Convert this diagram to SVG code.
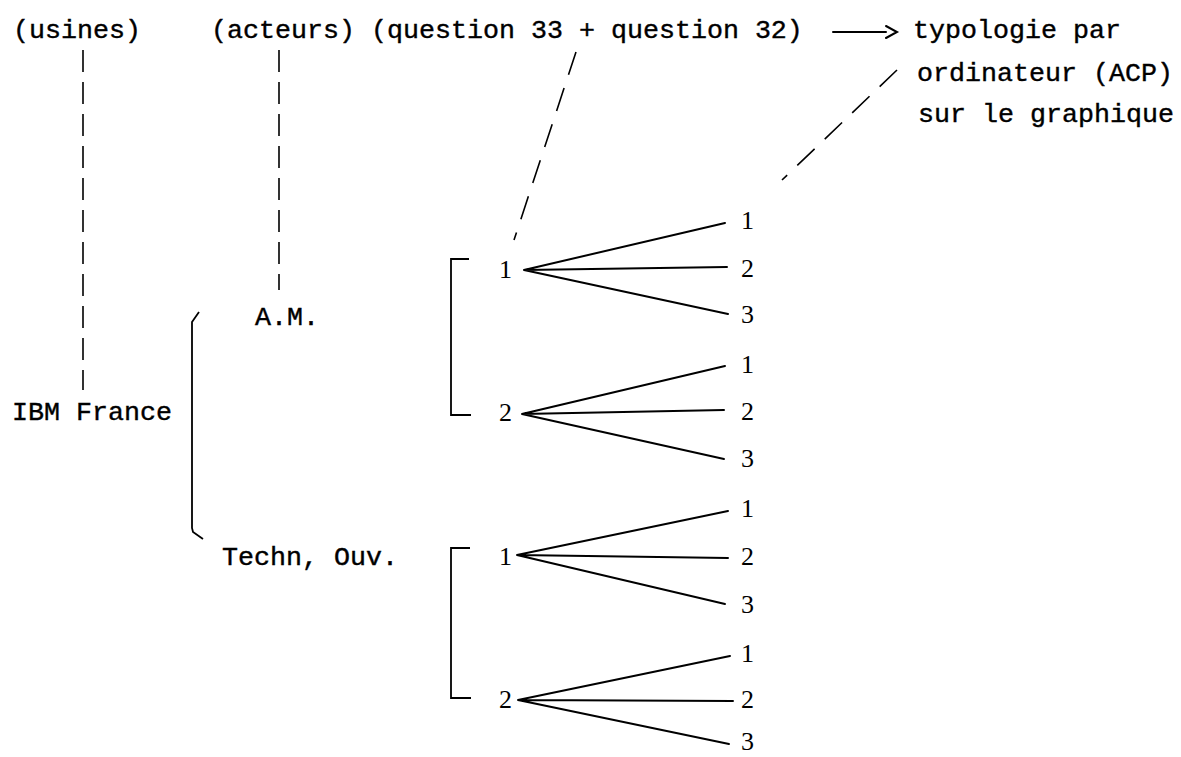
<svg xmlns="http://www.w3.org/2000/svg" width="1181" height="757" viewBox="0 0 1181 757">
<style>
.mono{font-family:"Liberation Mono","Courier New",monospace;font-size:26.67px;fill:#000;stroke:#000;stroke-width:0.4}
.num{font-family:"Liberation Serif","Times New Roman",serif;font-size:26px;fill:#000}
.dash{stroke:#000;stroke-width:1.6;fill:none;stroke-dasharray:22 10}
.dash2{stroke:#000;stroke-width:1.6;fill:none;stroke-dasharray:24 14}
.ln{stroke:#000;stroke-width:2;fill:none;stroke-linecap:round}
.br{stroke:#000;stroke-width:1.8;fill:none}
</style>
<rect width="1181" height="757" fill="#fff"/>
<g id="header">
<text class="mono" x="13" y="38">(usines)</text>
<text class="mono" x="211" y="38">(acteurs) (question 33 + question 32)</text>
<text class="mono" x="913" y="38">typologie par</text>
<text class="mono" x="917" y="81">ordinateur (ACP)</text>
<text class="mono" x="918" y="122">sur le graphique</text>
</g>
<g id="labels">
<text class="mono" x="12" y="420">IBM France</text>
<text class="mono" x="255" y="325">A.M.</text>
<text class="mono" x="222" y="565">Techn, Ouv.</text>
</g>
<g id="connectors">
<path class="ln" d="M833 32 H886" stroke-width="1.8"/>
<path class="ln" d="M886 26 L897 32 L886 38" stroke-width="1.8"/>
<path class="dash" d="M83 50 V390"/>
<path class="dash" d="M279 50 V290"/>
<path class="dash2" d="M576 52 L514 240"/>
<path class="dash2" d="M897 70 L782 180"/>
<path class="br" d="M469 259 H451 V415 H471"/>
<path class="br" d="M470 548 H451 V698 H471"/>
<path class="br" d="M199 312 L192 322 V528 L193 532 L203 539"/>
<g>
<path class="ln" d="M524 270 L725 223 M524 270 L727 267 M524 270 L728 314"/>
<path class="ln" d="M522 414 L725 366 M522 414 L724 410 M522 414 L724 459"/>
<path class="ln" d="M517 555 L728 511 M517 555 L728 558 M517 555 L725 604"/>
<path class="ln" d="M518 700 L730 656 M518 700 L733 701 M518 700 L729 744" stroke-width="2.4"/>
</g>
</g>
<g id="numbers">
<text class="num" x="499" y="278">1</text>
<text class="num" x="499" y="421">2</text>
<text class="num" x="499" y="565">1</text>
<text class="num" x="499" y="708">2</text>
<text class="num" x="741" y="229">1</text>
<text class="num" x="741" y="277">2</text>
<text class="num" x="741" y="323">3</text>
<text class="num" x="741" y="373">1</text>
<text class="num" x="741" y="420">2</text>
<text class="num" x="741" y="467">3</text>
<text class="num" x="741" y="517">1</text>
<text class="num" x="741" y="565">2</text>
<text class="num" x="741" y="613">3</text>
<text class="num" x="741" y="662">1</text>
<text class="num" x="741" y="708">2</text>
<text class="num" x="741" y="750">3</text>
</g>
</svg>
